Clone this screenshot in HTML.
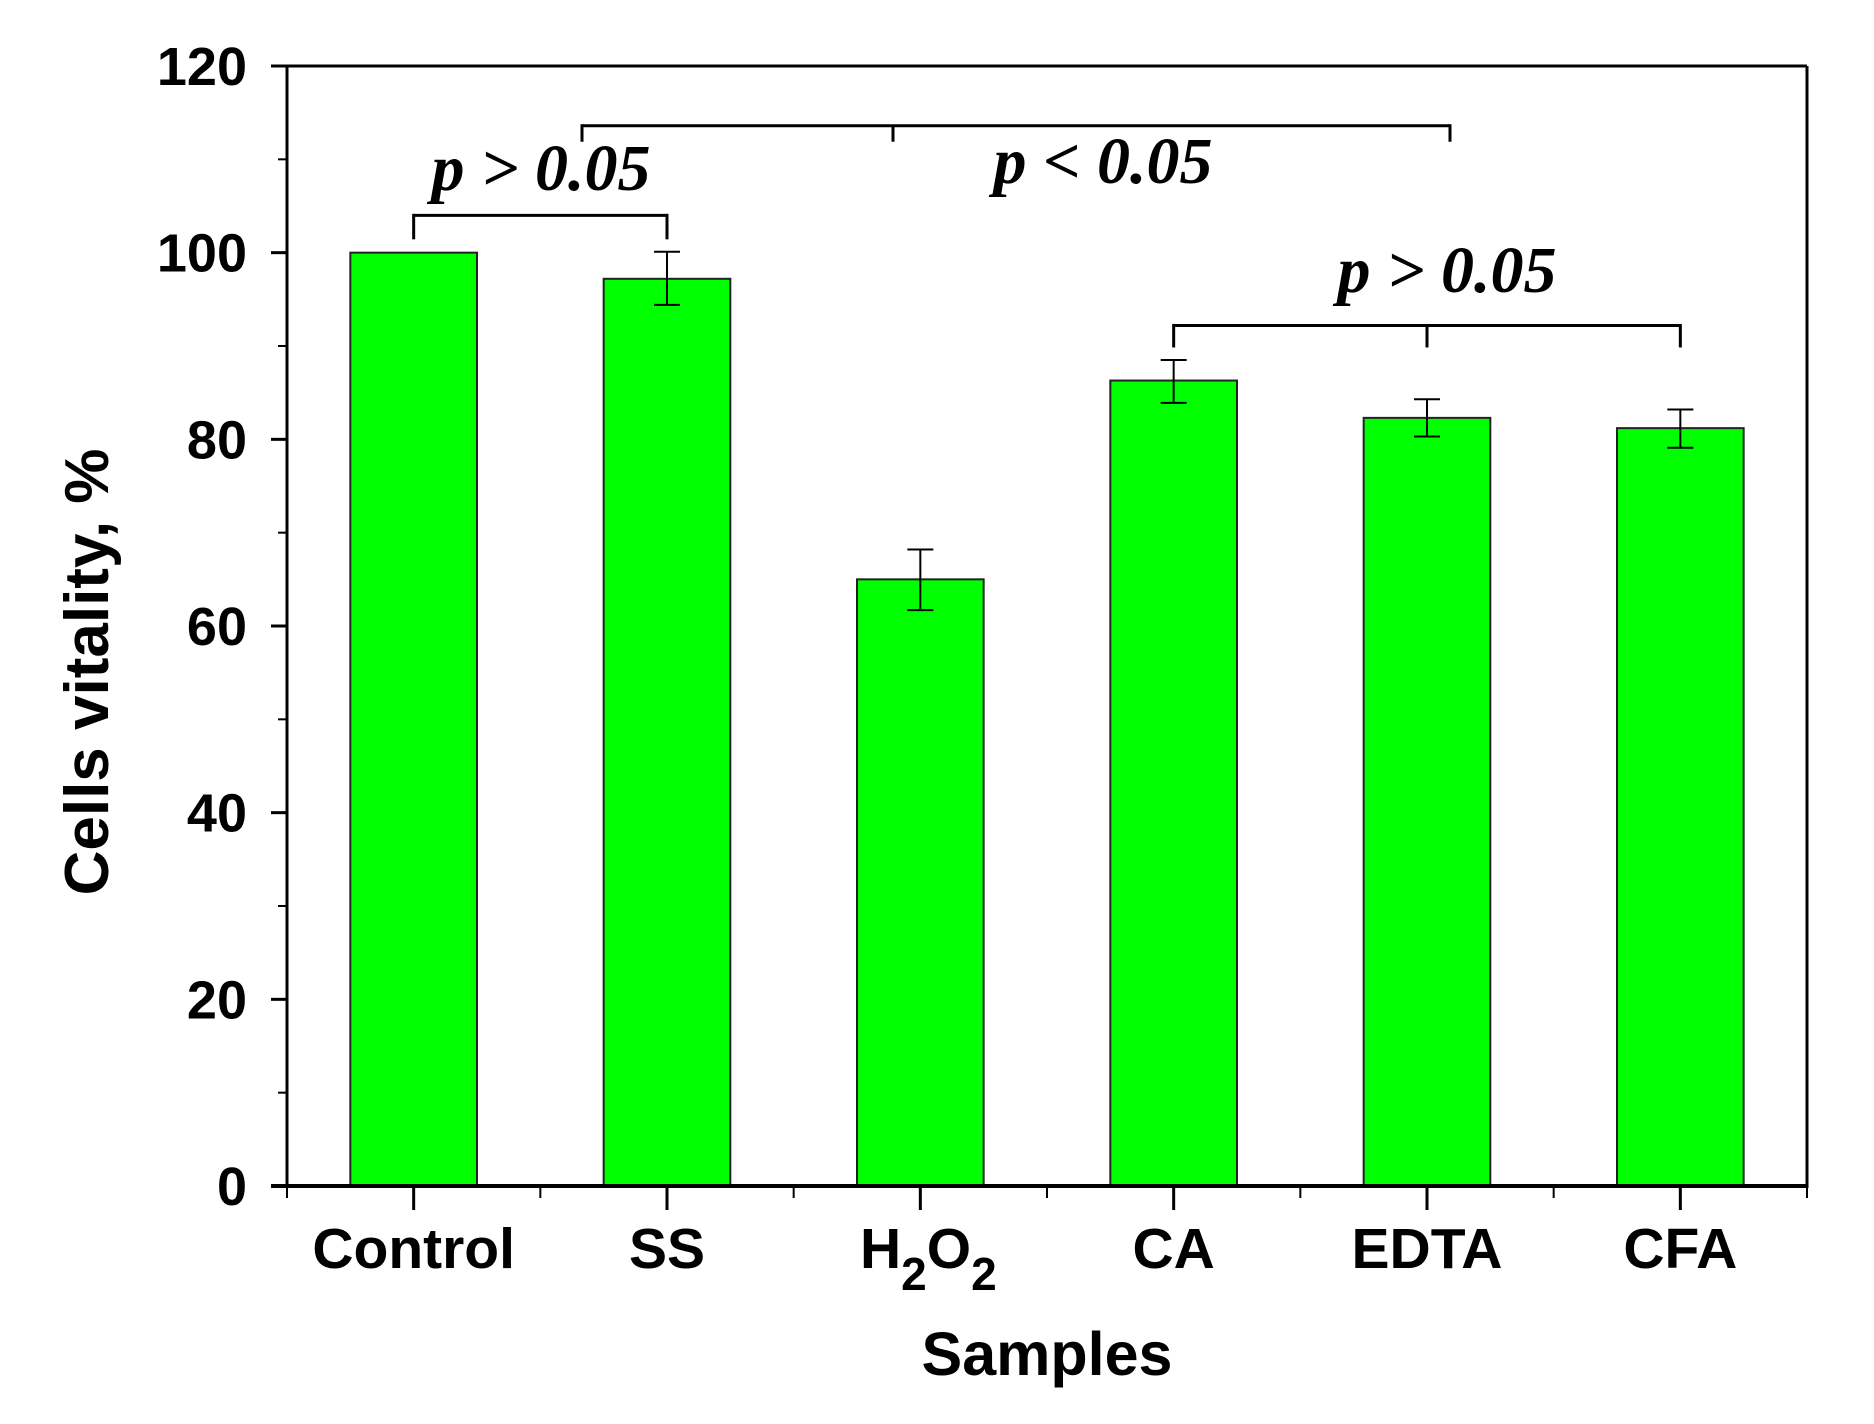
<!DOCTYPE html>
<html><head><meta charset="utf-8"><style>
html,body{margin:0;padding:0;background:#fff;}
svg{display:block;font-family:"Liberation Sans",Arial,sans-serif;}
</style></head><body>
<svg id="chart" width="1874" height="1424" viewBox="0 0 1874 1424" xmlns="http://www.w3.org/2000/svg"></svg>
<script>
const categories = ["Control","SS","H2O2","CA","EDTA","CFA"];
const values = [100, 97.2, 65, 86.3, 82.3, 81.2];
const errLow = [100, 94.4, 61.7, 83.9, 80.3, 79.1];
const errHigh = [100, 100.1, 68.2, 88.5, 84.3, 83.2];
const yTicks = [0,20,40,60,80,100,120];
const yMinorTicks = [10,30,50,70,90,110];

const NS="http://www.w3.org/2000/svg";
const svg=document.getElementById('chart');
const L=287,R=1807,T=66,B=1186,yMax=120;
const step=(R-L)/categories.length;
function y(v){return B-(v/yMax)*(B-T);}
function xc(i){return L+step*(i+0.5);}
function mk(tag,attrs,parent){const e=document.createElementNS(NS,tag);for(const k in attrs)e.setAttribute(k,attrs[k]);(parent||svg).appendChild(e);return e;}
function line(x1,y1,x2,y2,w,parent){return mk('line',{x1,y1,x2,y2,stroke:'#000','stroke-width':w},parent);}

values.forEach((v,i)=>{
  const bw=step*0.5;
  const r=mk('rect',{x:xc(i)-bw/2,y:y(v),width:bw,height:B-y(v),fill:'#00ff00',stroke:'#222','stroke-width':2});
  
  
  if(errHigh[i]!==errLow[i]){
    const g=mk('g',{});
    
    
    line(xc(i),y(errHigh[i]),xc(i),y(errLow[i]),2,g);
    line(xc(i)-13,y(errHigh[i]),xc(i)+13,y(errHigh[i]),2,g);
    line(xc(i)-13,y(errLow[i]),xc(i)+13,y(errLow[i]),2,g);
  }
});

const ax=mk('g',{});


line(L,T,L,B+2,3,ax); line(R,T,R,B+2,3,ax);
line(L-16,B,R,B,4,ax); line(L-16,T,R,T,3,ax);

yTicks.forEach(v=>{
  line(L-16,y(v),L,y(v),3);
  const t=mk('text',{x:L-40,y:y(v)+19,'text-anchor':'end','font-size':54,'font-weight':'bold'});
  t.textContent=v;
  
  
});
yMinorTicks.forEach(v=>line(L-9,y(v),L,y(v),2));

categories.forEach((c,i)=>{
  line(xc(i),B,xc(i),B+24,3);
  line(L+step*i,B,L+step*i,B+12,2);
});
line(R,B,R,B+12,2);

categories.forEach((c,i)=>{
  const t=mk('text',{x:xc(i),y:1268,'text-anchor':'middle','font-size':57,'font-weight':'bold'});
  
  
  if(c==='H2O2'){
    t.setAttribute('x',xc(i)+8);
    t.innerHTML='H<tspan dy="22" font-size="46">2</tspan><tspan dy="-22">O</tspan><tspan dy="22" font-size="46">2</tspan>';
  } else t.textContent=c;
});

const xt=mk('text',{x:1047,y:1375,'text-anchor':'middle','font-size':61,'font-weight':'bold'});
xt.textContent='Samples';


const yt=mk('text',{x:0,y:0,'text-anchor':'middle','font-size':62,'font-weight':'bold',transform:'translate(108,672) rotate(-90)'});
yt.textContent='Cells vitality, %';



function bracket(x1,x2,mid,vy,drop,name,label,lx,ly){
  const g=mk('g',{});
  
  
  line(x1,y(vy),x2,y(vy),3,g);
  line(x1,y(vy)-1.5,x1,y(vy)+drop,3,g);
  line(x2,y(vy)-1.5,x2,y(vy)+drop,3,g);
  if(mid!==null) line(mid,y(vy),mid,y(vy)+drop,3,g);
  const t=mk('text',{x:lx,y:ly,'text-anchor':'middle','font-size':66,'font-weight':'bold','font-style':'italic','font-family':'"Liberation Serif",serif'},g);
  t.textContent=label;
}
bracket(xc(0),xc(1),null,104,24,'bracket-control-ss','p > 0.05',541,190);
bracket(582,1450,893,113.6,16,'bracket-overall','p < 0.05',1103,183);
bracket(xc(3),xc(5),xc(4),92.2,22,'bracket-ca-cfa','p > 0.05',1447,292);
</script>
</body></html>
